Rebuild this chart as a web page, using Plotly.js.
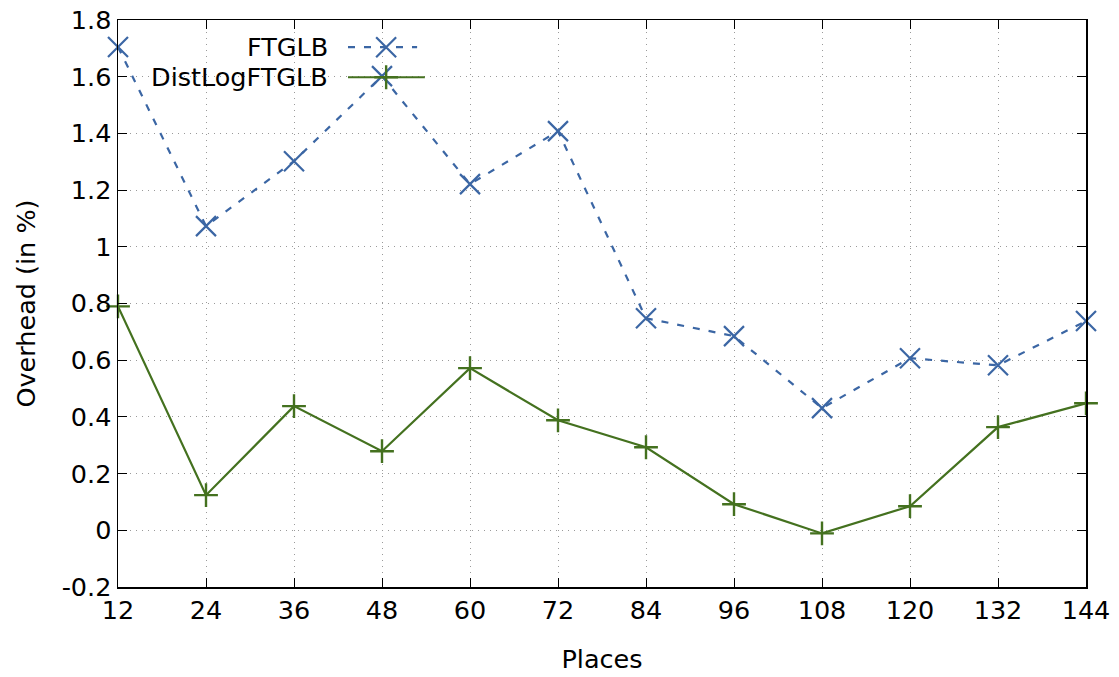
<!DOCTYPE html>
<html><head><meta charset="utf-8">
<script src="https://cdn.plot.ly/plotly-3.0.1.min.js"></script>
<style>html,body{margin:0;padding:0;background:#fff}#chart{width:1119px;height:677px}</style>
</head><body><div id="chart"></div>
<script>
const places = [12, 24, 36, 48, 60, 72, 84, 96, 108, 120, 132, 144];
const ftglb = [1.705, 1.073, 1.302, 1.602, 1.221, 1.408, 0.748, 0.685, 0.431, 0.607, 0.582, 0.738];
const distLogFtglb = [0.790, 0.124, 0.438, 0.279, 0.572, 0.388, 0.293, 0.092, -0.011, 0.085, 0.364, 0.448];
const seriesNames = ['FTGLB', 'DistLogFTGLB'];
const xTicks = places;
const yTicks = [-0.2, 0, 0.2, 0.4, 0.6, 0.8, 1, 1.2, 1.4, 1.6, 1.8];
const yTickText = ['-0.2', '0', '0.2', '0.4', '0.6', '0.8', '1', '1.2', '1.4', '1.6', '1.8'];

const blue = '#3b66a4';
const green = '#44711f';
const font = {family: 'DejaVu Sans', size: 25.5, color: '#000'};

const traces = [
  {x: places, y: ftglb, name: seriesNames[0], type: 'scatter', mode: 'lines+markers',
   line: {color: blue, width: 2.2, dash: '7px,9px'},
   marker: {symbol: 'x-thin-open', size: 20, color: blue, line: {color: blue, width: 2.2}}, cliponaxis: false},
  {x: places, y: distLogFtglb, name: seriesNames[1], type: 'scatter', mode: 'lines+markers',
   line: {color: green, width: 2.2},
   marker: {symbol: 'cross-thin-open', size: 17, color: green, line: {color: green, width: 2.4}}, cliponaxis: false},
  // legend sample markers (hidden helper axes)
  {x: [0.277], y: [0.952], xaxis: 'x2', yaxis: 'y2', type: 'scatter', mode: 'markers',
   marker: {symbol: 'x-thin-open', size: 20, color: blue, line: {color: blue, width: 2.2}},
   hoverinfo: 'skip', showlegend: false, cliponaxis: false},
  {x: [0.277], y: [0.899], xaxis: 'x2', yaxis: 'y2', type: 'scatter', mode: 'markers',
   marker: {symbol: 'cross-thin-open', size: 17, color: green, line: {color: green, width: 2.4}},
   hoverinfo: 'skip', showlegend: false, cliponaxis: false}
];

const layout = {
  width: 1119, height: 677,
  margin: {l: 118, r: 33, t: 20, b: 90},
  paper_bgcolor: '#fff', plot_bgcolor: '#fff',
  showlegend: false,
  font: font,
  xaxis: {
    range: [12, 144], tickvals: xTicks, ticktext: xTicks.map(String),
    showline: true, linecolor: '#000', linewidth: 1.5, mirror: 'ticks',
    ticks: 'inside', ticklen: 9, tickcolor: '#000',
    showgrid: true, gridcolor: '#9a9a9a', gridwidth: 1, griddash: '1px,5px',
    zeroline: false, tickfont: font,
    title: {text: 'Places', font: font, standoff: 26}
  },
  yaxis: {
    range: [-0.2, 1.8], tickvals: yTicks, ticktext: yTickText,
    showline: true, linecolor: '#000', linewidth: 1.5, mirror: 'ticks',
    ticks: 'inside', ticklen: 9, tickcolor: '#000',
    showgrid: true, gridcolor: '#9a9a9a', gridwidth: 1, griddash: '1px,5px',
    zeroline: false, tickfont: font,
    title: {text: 'Overhead (in %)', font: font, standoff: 18}
  },
  xaxis2: {overlaying: 'x', range: [0, 1], visible: false, fixedrange: true},
  yaxis2: {overlaying: 'y', range: [0, 1], visible: false, fixedrange: true},
  annotations: [
    {xref: 'paper', yref: 'paper', x: 0.219, y: 0.952, xanchor: 'right', yanchor: 'middle',
     text: seriesNames[0], showarrow: false, font: font},
    {xref: 'paper', yref: 'paper', x: 0.219, y: 0.899, xanchor: 'right', yanchor: 'middle',
     text: seriesNames[1], showarrow: false, font: font}
  ],
  shapes: [
    {type: 'rect', xref: 'paper', yref: 'paper', x0: 0.226, x1: 0.322, y0: 0.925, y1: 0.978,
     fillcolor: '#fff', line: {width: 0}, layer: 'below'},
    {type: 'line', xref: 'paper', yref: 'paper', x0: 0.2376, x1: 0.309, y0: 0.952, y1: 0.952,
     line: {color: blue, width: 2.2, dash: '7px,9px'}},
    {type: 'line', xref: 'paper', yref: 'paper', x0: 0.2376, x1: 0.317, y0: 0.899, y1: 0.899,
     line: {color: green, width: 2.2}}
  ]
};

Plotly.newPlot('chart', traces, layout, {staticPlot: true, displayModeBar: false});
</script></body></html>
